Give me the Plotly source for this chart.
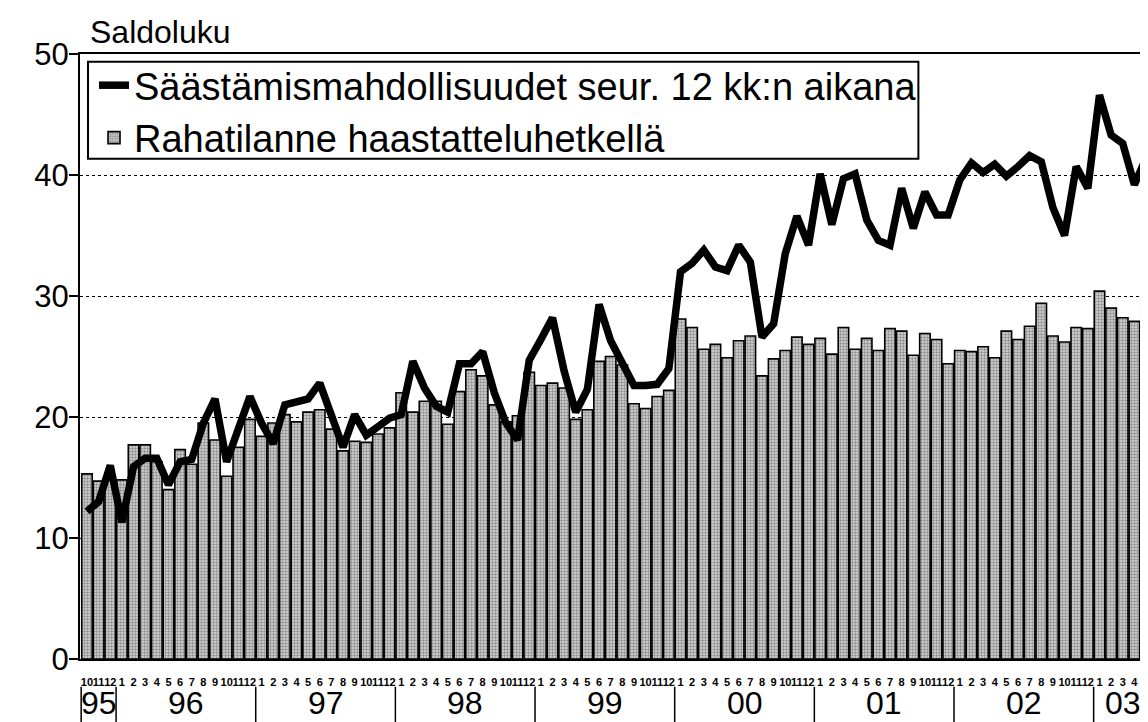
import plotly.graph_objects as go

# ---- data ----
year_labels = ["95", "96", "97", "98", "99", "00", "01", "02", "03"]
months_in_year = [3, 12, 12, 12, 12, 12, 12, 12, 5]
first_month = 10

rahatilanne = [
    15.3, 14.7, 14.8,
    14.8, 17.7, 17.7, 16.3, 14.0, 17.3, 16.1, 19.5, 18.1, 15.1, 17.5, 19.8,
    18.4, 19.5, 20.2, 19.6, 20.4, 20.6, 19.0, 17.2, 18.0, 17.9, 18.6, 19.1,
    22.0, 20.4, 21.3, 21.3, 19.4, 22.1, 23.9, 23.4, 21.0, 19.6, 20.1, 23.7,
    22.6, 22.8, 22.4, 19.8, 20.6, 24.6, 25.0, 24.3, 21.1, 20.7, 21.7, 22.2,
    28.1, 27.4, 25.6, 26.0, 24.9, 26.3, 26.7, 23.4, 24.8, 25.5, 26.6, 26.0,
    26.5, 25.2, 27.4, 25.6, 26.5, 25.5, 27.3, 27.1, 25.1, 26.9, 26.4, 24.4,
    25.5, 25.4, 25.8, 24.9, 27.1, 26.4, 27.5, 29.4, 26.7, 26.2, 27.4, 27.3,
    30.4, 29.0, 28.2, 27.9, 30.0,
]

saastamis = [
    12.2, 13.0, 16.0,
    11.3, 15.9, 16.6, 16.6, 14.4, 16.3, 16.5, 19.5, 21.5, 16.3, 19.0, 21.7,
    19.5, 17.8, 21.0, 21.2, 21.5, 22.8, 20.0, 17.5, 20.2, 18.5, 19.2, 19.9,
    20.2, 24.6, 22.4, 20.9, 20.4, 24.4, 24.4, 25.4, 22.0, 19.5, 18.1, 24.7,
    26.4, 28.2, 23.8, 20.4, 22.3, 29.3, 26.3, 24.4, 22.6, 22.6, 22.7, 24.0,
    32.0, 32.7, 33.8, 32.4, 32.1, 34.2, 32.8, 26.6, 27.7, 33.5, 36.6, 34.2,
    40.1, 35.9, 39.7, 40.1, 36.3, 34.6, 34.2, 38.9, 35.6, 38.6, 36.7, 36.7,
    39.6, 41.0, 40.2, 40.9, 39.9, 40.7, 41.6, 41.1, 37.3, 35.0, 40.7, 38.9,
    46.6, 43.3, 42.6, 39.2, 41.4,
]

name_line = "Säästämismahdollisuudet seur. 12 kk:n aikana"
name_bar = "Rahatilanne haastatteluhetkellä"
y_title = "Saldoluku"

# month tick labels
month_labels = []
m = first_month
for n in months_in_year:
    for _ in range(n):
        month_labels.append(str(m))
        m = m % 12 + 1

x = list(range(len(rahatilanne)))

FONT = "Liberation Sans, Arial, sans-serif"

fig = go.Figure()
fig.add_trace(go.Scatter(
    x=x, y=saastamis, mode="lines", name=name_line,
    line=dict(color="black", width=7.5),
))
fig.add_trace(go.Bar(
    x=x, y=rahatilanne, name=name_bar,
    marker=dict(
        color="#c8c8c8",
        line=dict(color="black", width=1.6),
        pattern=dict(shape=".", fgcolor="#444444", bgcolor="#d8d8d8",
                     size=3, solidity=0.5),
    ),
))

# year labels and separators below axis
annotations = []
shapes = []
start = 0
for lab, n in zip(year_labels, months_in_year):
    center = start + (n - 1) / 2
    annotations.append(dict(
        x=center, y=-0.073, xref="x", yref="paper", text=lab,
        showarrow=False, font=dict(family=FONT, size=32, color="black"),
        xanchor="center", yanchor="middle",
    ))
    shapes.append(dict(
        type="line", xref="x", yref="paper", x0=start - 0.5, x1=start - 0.5,
        y0=-0.046, y1=-0.11, line=dict(color="black", width=1.5),
    ))
    start += n

annotations.append(dict(
    x=0.0075, y=1.036, xref="paper", yref="paper", text=y_title,
    showarrow=False, font=dict(family=FONT, size=32, color="black"),
    xanchor="left", yanchor="middle",
))

# legend frame (drawn as a box behind the legend entries)
shapes.append(dict(
    type="rect", xref="paper", yref="paper", layer="above",
    x0=0.0075, x1=0.785, y0=0.827, y1=0.987,
    fillcolor="white", line=dict(color="black", width=2),
))

fig.update_layout(
    width=1148, height=722,
    margin=dict(l=72, r=8, t=46, b=71),
    paper_bgcolor="white", plot_bgcolor="white",
    font=dict(family=FONT, color="black"),
    bargap=0.1,
    showlegend=True,
    legend=dict(
        x=0.0075, y=1.0, xanchor="left", yanchor="top",
        bgcolor="rgba(0,0,0,0)", borderwidth=0,
        font=dict(family=FONT, size=38, color="black"),
        traceorder="normal", tracegroupgap=0, indentation=6,
    ),
    annotations=annotations,
    shapes=shapes,
)

fig.update_xaxes(
    range=[-0.6, 91.17],
    tickmode="array", tickvals=x, ticktext=month_labels,
    tickangle=0,
    tickfont=dict(family=FONT, size=11, color="black", weight="bold"),
    showline=True, linecolor="black", linewidth=2, mirror=True,
    ticks="", showgrid=False, zeroline=False,
    ticklabelstandoff=12,
)
fig.update_yaxes(
    range=[0, 50], tickvals=[0, 10, 20, 30, 40, 50],
    tickfont=dict(family=FONT, size=31, color="black"),
    showline=True, linecolor="black", linewidth=2,
    ticks="outside", ticklen=9, tickwidth=2, tickcolor="black",
    ticklabelstandoff=-6,
    showgrid=True, gridcolor="black", gridwidth=1, griddash="dot",
    zeroline=False,
)

fig.write_html("out.html")
